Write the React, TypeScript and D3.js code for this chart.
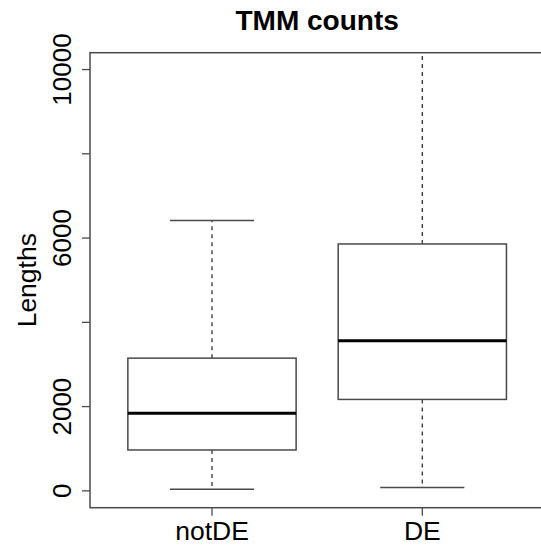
import React from 'react'
import * as d3 from 'd3'

// box statistics
const groups = ['notDE', 'DE']
const lowerWhisker = [40, 80]
const q1 = [970, 2170]
const median = [1840, 3560]
const q3 = [3150, 5860]
const upperWhisker = [6420, 11500]
const yTicks = [0, 2000, 4000, 6000, 8000, 10000]
const yLabels = ['0', '2000', '', '6000', '', '10000']

const W = 541
const H = 552
const FONT = '"Liberation Sans", Arial, Helvetica, sans-serif'

export default function App() {
  const left = 90
  const right = 544.3
  const top = 52.7
  const bottom = 507.7

  const x = d3.scaleLinear().domain([0.42, 2.58]).range([left, right])
  const y = d3.scaleLinear().domain([-400, 10400]).range([bottom, top])
  const unit = x(1) - x(0)
  const boxW = unit * 0.8
  const capW = unit * 0.4
  const lineCol = '#4a4a4a'

  return (
    <svg width={W} height={H} style={{ position: 'absolute', left: 0, top: 0, background: '#fff' }}>
      <defs>
        <clipPath id="plot">
          <rect x={left} y={top} width={right - left} height={bottom - top} />
        </clipPath>
      </defs>

      {/* 標題 */}
      <text x={(left + right) / 2} y={30} textAnchor="middle" fontFamily={FONT} fontWeight="bold" fontSize={28} fill="#000">
        TMM counts
      </text>

      {/* boxes */}
      <g clipPath="url(#plot)">
        {groups.map((g, i) => {
          const cx = x(i + 1)
          return (
            <g key={g}>
              <line x1={cx} x2={cx} y1={y(q3[i])} y2={y(upperWhisker[i])} stroke="#333" strokeWidth={1.3} strokeDasharray="4,4" />
              <line x1={cx} x2={cx} y1={y(q1[i])} y2={y(lowerWhisker[i])} stroke="#333" strokeWidth={1.3} strokeDasharray="4,4" />
              <line x1={cx - capW / 2} x2={cx + capW / 2} y1={y(upperWhisker[i])} y2={y(upperWhisker[i])} stroke={lineCol} strokeWidth={1.5} />
              <line x1={cx - capW / 2} x2={cx + capW / 2} y1={y(lowerWhisker[i])} y2={y(lowerWhisker[i])} stroke={lineCol} strokeWidth={1.5} />
              <rect x={cx - boxW / 2} y={y(q3[i])} width={boxW} height={y(q1[i]) - y(q3[i])} fill="#fff" stroke={lineCol} strokeWidth={1.5} />
              <line x1={cx - boxW / 2} x2={cx + boxW / 2} y1={y(median[i])} y2={y(median[i])} stroke="#000" strokeWidth={3} />
            </g>
          )
        })}
      </g>

      {/* frame */}
      <rect x={left} y={top} width={right - left} height={bottom - top} fill="none" stroke={lineCol} strokeWidth={1.5} />

      {/* y axis */}
      {yTicks.map((v, i) => (
        <g key={v}>
          <line x1={left - 8} x2={left} y1={y(v)} y2={y(v)} stroke={lineCol} strokeWidth={1.3} />
          {yLabels[i] && (
            <text transform={`translate(71,${y(v)}) rotate(-90)`} textAnchor="middle" fontFamily={FONT} fontSize={26} fill="#000">
              {yLabels[i]}
            </text>
          )}
        </g>
      ))}
      <text transform={`translate(36,${(top + bottom) / 2}) rotate(-90)`} textAnchor="middle" fontFamily={FONT} fontSize={26.5} fill="#000">
        Lengths
      </text>

      {/* x axis */}
      {groups.map((g, i) => (
        <g key={g}>
          <line x1={x(i + 1)} x2={x(i + 1)} y1={bottom} y2={bottom + 8} stroke={lineCol} strokeWidth={1.3} />
          <text x={x(i + 1)} y={540} textAnchor="middle" fontFamily={FONT} fontSize={26.5} fill="#000">
            {g}
          </text>
        </g>
      ))}
    </svg>
  )
}
